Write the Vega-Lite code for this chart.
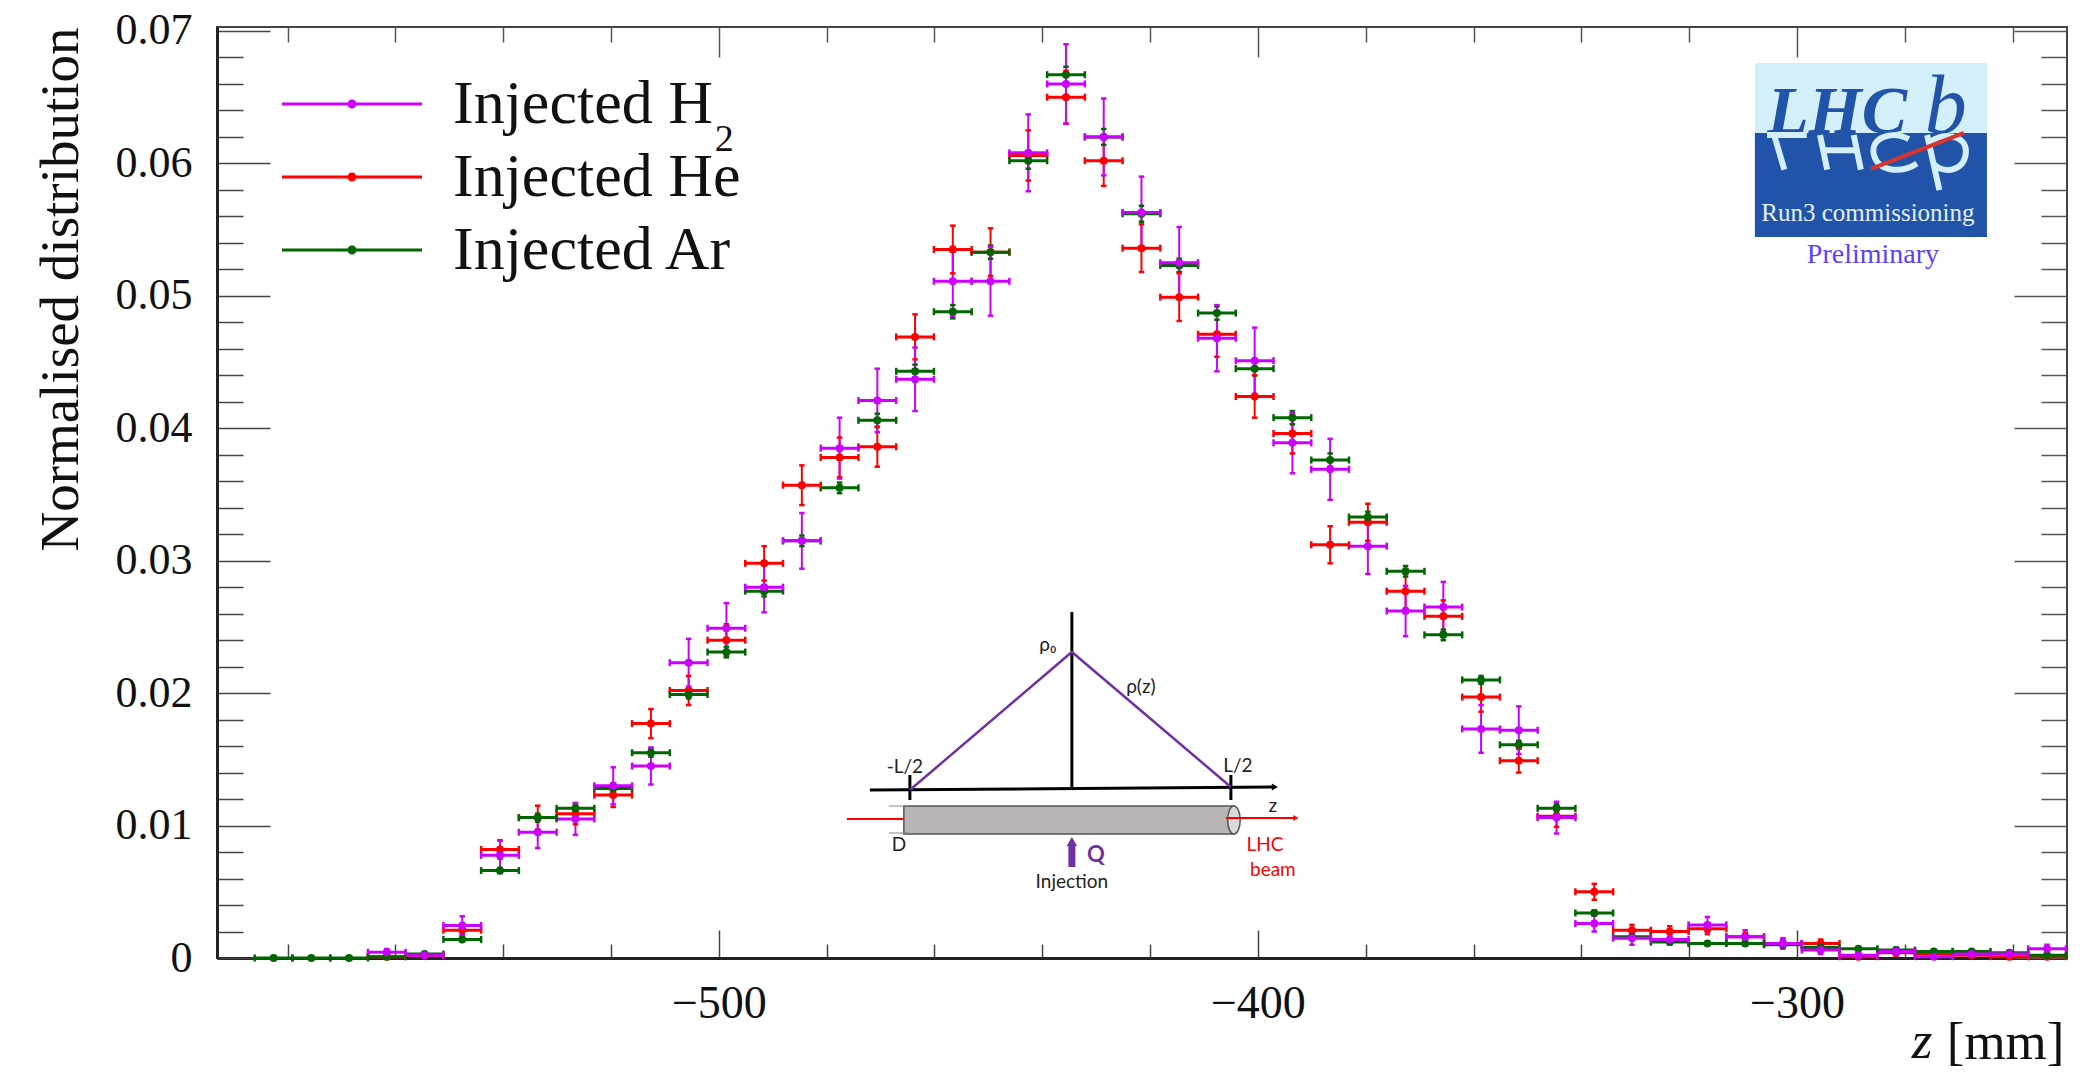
{"$schema":"https://vega.github.io/schema/vega-lite/v6.json","width":1850,"height":931,"autosize":"none","padding":{"left":217,"top":27,"right":13,"bottom":119},"background":"white","config":{"view":{"stroke":"#444","strokeWidth":2},"text":{"font":"Lato"}},"resolve":{"axis":{"x":"independent","y":"independent"}},"datasets":{"pts":[
{"s":"Injected He","z":-561.6,"zl":-565.1,"zh":-558.1,"v":0.0001,"vl":0,"vh":0.0002},
{"s":"Injected He","z":-554.6,"zl":-558.1,"zh":-551.1,"v":0.0002,"vl":0.0001,"vh":0.0003},
{"s":"Injected He","z":-547.6,"zl":-551.1,"zh":-544.1,"v":0.0021,"vl":0.0017,"vh":0.0025},
{"s":"Injected He","z":-540.6,"zl":-544.1,"zh":-537.1,"v":0.0082,"vl":0.0075,"vh":0.0089},
{"s":"Injected He","z":-533.6,"zl":-537.1,"zh":-530.1,"v":0.0106,"vl":0.0097,"vh":0.0115},
{"s":"Injected He","z":-526.6,"zl":-530.1,"zh":-523.1,"v":0.0109,"vl":0.0101,"vh":0.0117},
{"s":"Injected He","z":-519.6,"zl":-523.1,"zh":-516.1,"v":0.0123,"vl":0.0114,"vh":0.0132},
{"s":"Injected He","z":-512.6,"zl":-516.1,"zh":-509.1,"v":0.0177,"vl":0.0166,"vh":0.0188},
{"s":"Injected He","z":-505.6,"zl":-509.1,"zh":-502.1,"v":0.0202,"vl":0.0191,"vh":0.0213},
{"s":"Injected He","z":-498.6,"zl":-502.1,"zh":-495.1,"v":0.024,"vl":0.0228,"vh":0.0252},
{"s":"Injected He","z":-491.6,"zl":-495.1,"zh":-488.1,"v":0.0298,"vl":0.0285,"vh":0.0311},
{"s":"Injected He","z":-484.6,"zl":-488.1,"zh":-481.1,"v":0.0357,"vl":0.0342,"vh":0.0372},
{"s":"Injected He","z":-477.6,"zl":-481.1,"zh":-474.1,"v":0.0378,"vl":0.0363,"vh":0.0393},
{"s":"Injected He","z":-470.6,"zl":-474.1,"zh":-467.1,"v":0.0386,"vl":0.0371,"vh":0.0401},
{"s":"Injected He","z":-463.6,"zl":-467.1,"zh":-460.1,"v":0.0469,"vl":0.0452,"vh":0.0486},
{"s":"Injected He","z":-456.6,"zl":-460.1,"zh":-453.1,"v":0.0535,"vl":0.0517,"vh":0.0553},
{"s":"Injected He","z":-449.6,"zl":-453.1,"zh":-446.1,"v":0.0533,"vl":0.0515,"vh":0.0551},
{"s":"Injected He","z":-442.6,"zl":-446.1,"zh":-439.1,"v":0.0606,"vl":0.0587,"vh":0.0625},
{"s":"Injected He","z":-435.6,"zl":-439.1,"zh":-432.1,"v":0.065,"vl":0.063,"vh":0.067},
{"s":"Injected He","z":-428.6,"zl":-432.1,"zh":-425.1,"v":0.0602,"vl":0.0583,"vh":0.0621},
{"s":"Injected He","z":-421.6,"zl":-425.1,"zh":-418.1,"v":0.0536,"vl":0.0518,"vh":0.0554},
{"s":"Injected He","z":-414.6,"zl":-418.1,"zh":-411.1,"v":0.0499,"vl":0.0481,"vh":0.0517},
{"s":"Injected He","z":-407.6,"zl":-411.1,"zh":-404.1,"v":0.0471,"vl":0.0454,"vh":0.0488},
{"s":"Injected He","z":-400.6,"zl":-404.1,"zh":-397.1,"v":0.0424,"vl":0.0408,"vh":0.044},
{"s":"Injected He","z":-393.6,"zl":-397.1,"zh":-390.1,"v":0.0396,"vl":0.0381,"vh":0.0411},
{"s":"Injected He","z":-386.6,"zl":-390.1,"zh":-383.1,"v":0.0312,"vl":0.0298,"vh":0.0326},
{"s":"Injected He","z":-379.6,"zl":-383.1,"zh":-376.1,"v":0.0329,"vl":0.0315,"vh":0.0343},
{"s":"Injected He","z":-372.6,"zl":-376.1,"zh":-369.1,"v":0.0277,"vl":0.0264,"vh":0.029},
{"s":"Injected He","z":-365.6,"zl":-369.1,"zh":-362.1,"v":0.0258,"vl":0.0246,"vh":0.027},
{"s":"Injected He","z":-358.6,"zl":-362.1,"zh":-355.1,"v":0.0197,"vl":0.0186,"vh":0.0208},
{"s":"Injected He","z":-351.6,"zl":-355.1,"zh":-348.1,"v":0.0149,"vl":0.014,"vh":0.0158},
{"s":"Injected He","z":-344.6,"zl":-348.1,"zh":-341.1,"v":0.0107,"vl":0.0099,"vh":0.0115},
{"s":"Injected He","z":-337.6,"zl":-341.1,"zh":-334.1,"v":0.005,"vl":0.0044,"vh":0.0056},
{"s":"Injected He","z":-330.6,"zl":-334.1,"zh":-327.1,"v":0.0021,"vl":0.0017,"vh":0.0025},
{"s":"Injected He","z":-323.6,"zl":-327.1,"zh":-320.1,"v":0.002,"vl":0.0016,"vh":0.0024},
{"s":"Injected He","z":-316.6,"zl":-320.1,"zh":-313.1,"v":0.0022,"vl":0.0018,"vh":0.0026},
{"s":"Injected He","z":-309.6,"zl":-313.1,"zh":-306.1,"v":0.0016,"vl":0.0013,"vh":0.0019},
{"s":"Injected He","z":-302.6,"zl":-306.1,"zh":-299.1,"v":0.0011,"vl":0.0008,"vh":0.0014},
{"s":"Injected He","z":-295.6,"zl":-299.1,"zh":-292.1,"v":0.0011,"vl":0.0008,"vh":0.0014},
{"s":"Injected He","z":-288.6,"zl":-292.1,"zh":-285.1,"v":0.0001,"vl":0,"vh":0.0002},
{"s":"Injected He","z":-281.6,"zl":-285.1,"zh":-278.1,"v":0.0004,"vl":0.0002,"vh":0.0006},
{"s":"Injected He","z":-274.6,"zl":-278.1,"zh":-271.1,"v":0.0003,"vl":0.0002,"vh":0.0004},
{"s":"Injected He","z":-267.6,"zl":-271.1,"zh":-264.1,"v":0.0002,"vl":0.0001,"vh":0.0003},
{"s":"Injected He","z":-260.6,"zl":-264.1,"zh":-257.1,"v":0.0001,"vl":0,"vh":0.0002},
{"s":"Injected He","z":-253.6,"zl":-257.1,"zh":-250.1,"v":0.0001,"vl":0,"vh":0.0002},
{"s":"Injected Ar","z":-582.6,"zl":-586.1,"zh":-579.1,"v":0,"vl":0,"vh":0},
{"s":"Injected Ar","z":-575.6,"zl":-579.1,"zh":-572.1,"v":0,"vl":0,"vh":0},
{"s":"Injected Ar","z":-568.6,"zl":-572.1,"zh":-565.1,"v":0,"vl":0,"vh":0},
{"s":"Injected Ar","z":-561.6,"zl":-565.1,"zh":-558.1,"v":0.0001,"vl":0.00005,"vh":0.00015},
{"s":"Injected Ar","z":-554.6,"zl":-558.1,"zh":-551.1,"v":0.0003,"vl":0.0002,"vh":0.0004},
{"s":"Injected Ar","z":-547.6,"zl":-551.1,"zh":-544.1,"v":0.0014,"vl":0.0013,"vh":0.0015},
{"s":"Injected Ar","z":-540.6,"zl":-544.1,"zh":-537.1,"v":0.0066,"vl":0.0064,"vh":0.0068},
{"s":"Injected Ar","z":-533.6,"zl":-537.1,"zh":-530.1,"v":0.0106,"vl":0.0103,"vh":0.0109},
{"s":"Injected Ar","z":-526.6,"zl":-530.1,"zh":-523.1,"v":0.0113,"vl":0.011,"vh":0.0116},
{"s":"Injected Ar","z":-519.6,"zl":-523.1,"zh":-516.1,"v":0.0128,"vl":0.0125,"vh":0.0131},
{"s":"Injected Ar","z":-512.6,"zl":-516.1,"zh":-509.1,"v":0.0155,"vl":0.0152,"vh":0.0158},
{"s":"Injected Ar","z":-505.6,"zl":-509.1,"zh":-502.1,"v":0.0199,"vl":0.0196,"vh":0.0202},
{"s":"Injected Ar","z":-498.6,"zl":-502.1,"zh":-495.1,"v":0.0231,"vl":0.0227,"vh":0.0235},
{"s":"Injected Ar","z":-491.6,"zl":-495.1,"zh":-488.1,"v":0.0277,"vl":0.0273,"vh":0.0281},
{"s":"Injected Ar","z":-484.6,"zl":-488.1,"zh":-481.1,"v":0.0315,"vl":0.0311,"vh":0.0319},
{"s":"Injected Ar","z":-477.6,"zl":-481.1,"zh":-474.1,"v":0.0355,"vl":0.0351,"vh":0.0359},
{"s":"Injected Ar","z":-470.6,"zl":-474.1,"zh":-467.1,"v":0.0406,"vl":0.0401,"vh":0.0411},
{"s":"Injected Ar","z":-463.6,"zl":-467.1,"zh":-460.1,"v":0.0443,"vl":0.0438,"vh":0.0448},
{"s":"Injected Ar","z":-456.6,"zl":-460.1,"zh":-453.1,"v":0.0488,"vl":0.0483,"vh":0.0493},
{"s":"Injected Ar","z":-449.6,"zl":-453.1,"zh":-446.1,"v":0.0533,"vl":0.0528,"vh":0.0538},
{"s":"Injected Ar","z":-442.6,"zl":-446.1,"zh":-439.1,"v":0.0602,"vl":0.0596,"vh":0.0608},
{"s":"Injected Ar","z":-435.6,"zl":-439.1,"zh":-432.1,"v":0.0667,"vl":0.0661,"vh":0.0673},
{"s":"Injected Ar","z":-428.6,"zl":-432.1,"zh":-425.1,"v":0.062,"vl":0.0614,"vh":0.0626},
{"s":"Injected Ar","z":-421.6,"zl":-425.1,"zh":-418.1,"v":0.0562,"vl":0.0556,"vh":0.0568},
{"s":"Injected Ar","z":-414.6,"zl":-418.1,"zh":-411.1,"v":0.0523,"vl":0.0518,"vh":0.0528},
{"s":"Injected Ar","z":-407.6,"zl":-411.1,"zh":-404.1,"v":0.0487,"vl":0.0482,"vh":0.0492},
{"s":"Injected Ar","z":-400.6,"zl":-404.1,"zh":-397.1,"v":0.0445,"vl":0.044,"vh":0.045},
{"s":"Injected Ar","z":-393.6,"zl":-397.1,"zh":-390.1,"v":0.0408,"vl":0.0403,"vh":0.0413},
{"s":"Injected Ar","z":-386.6,"zl":-390.1,"zh":-383.1,"v":0.0376,"vl":0.0371,"vh":0.0381},
{"s":"Injected Ar","z":-379.6,"zl":-383.1,"zh":-376.1,"v":0.0333,"vl":0.0329,"vh":0.0337},
{"s":"Injected Ar","z":-372.6,"zl":-376.1,"zh":-369.1,"v":0.0292,"vl":0.0288,"vh":0.0296},
{"s":"Injected Ar","z":-365.6,"zl":-369.1,"zh":-362.1,"v":0.0244,"vl":0.024,"vh":0.0248},
{"s":"Injected Ar","z":-358.6,"zl":-362.1,"zh":-355.1,"v":0.021,"vl":0.0207,"vh":0.0213},
{"s":"Injected Ar","z":-351.6,"zl":-355.1,"zh":-348.1,"v":0.0161,"vl":0.0158,"vh":0.0164},
{"s":"Injected Ar","z":-344.6,"zl":-348.1,"zh":-341.1,"v":0.0113,"vl":0.011,"vh":0.0116},
{"s":"Injected Ar","z":-337.6,"zl":-341.1,"zh":-334.1,"v":0.0034,"vl":0.0032,"vh":0.0036},
{"s":"Injected Ar","z":-330.6,"zl":-334.1,"zh":-327.1,"v":0.0016,"vl":0.0015,"vh":0.0017},
{"s":"Injected Ar","z":-323.6,"zl":-327.1,"zh":-320.1,"v":0.0012,"vl":0.0011,"vh":0.0013},
{"s":"Injected Ar","z":-316.6,"zl":-320.1,"zh":-313.1,"v":0.0011,"vl":0.001,"vh":0.0012},
{"s":"Injected Ar","z":-309.6,"zl":-313.1,"zh":-306.1,"v":0.0011,"vl":0.001,"vh":0.0012},
{"s":"Injected Ar","z":-302.6,"zl":-306.1,"zh":-299.1,"v":0.001,"vl":0.0009,"vh":0.0011},
{"s":"Injected Ar","z":-295.6,"zl":-299.1,"zh":-292.1,"v":0.0008,"vl":0.0007,"vh":0.0009},
{"s":"Injected Ar","z":-288.6,"zl":-292.1,"zh":-285.1,"v":0.0007,"vl":0.0006,"vh":0.0008},
{"s":"Injected Ar","z":-281.6,"zl":-285.1,"zh":-278.1,"v":0.0006,"vl":0.0005,"vh":0.0007},
{"s":"Injected Ar","z":-274.6,"zl":-278.1,"zh":-271.1,"v":0.0005,"vl":0.0004,"vh":0.0006},
{"s":"Injected Ar","z":-267.6,"zl":-271.1,"zh":-264.1,"v":0.0005,"vl":0.0004,"vh":0.0006},
{"s":"Injected Ar","z":-260.6,"zl":-264.1,"zh":-257.1,"v":0.0004,"vl":0.0003,"vh":0.0005},
{"s":"Injected Ar","z":-253.6,"zl":-257.1,"zh":-250.1,"v":0.0002,"vl":0.0001,"vh":0.0003},
{"s":"Injected H","z":-561.6,"zl":-565.1,"zh":-558.1,"v":0.00043,"vl":0.00018,"vh":0.00068},
{"s":"Injected H","z":-554.6,"zl":-558.1,"zh":-551.1,"v":0.0002,"vl":0.00003,"vh":0.00037},
{"s":"Injected H","z":-547.6,"zl":-551.1,"zh":-544.1,"v":0.00245,"vl":0.00175,"vh":0.00315},
{"s":"Injected H","z":-540.6,"zl":-544.1,"zh":-537.1,"v":0.00775,"vl":0.00665,"vh":0.00885},
{"s":"Injected H","z":-533.6,"zl":-537.1,"zh":-530.1,"v":0.0095,"vl":0.0083,"vh":0.0107},
{"s":"Injected H","z":-526.6,"zl":-530.1,"zh":-523.1,"v":0.0105,"vl":0.0093,"vh":0.0117},
{"s":"Injected H","z":-519.6,"zl":-523.1,"zh":-516.1,"v":0.013,"vl":0.0116,"vh":0.0144},
{"s":"Injected H","z":-512.6,"zl":-516.1,"zh":-509.1,"v":0.0145,"vl":0.0131,"vh":0.0159},
{"s":"Injected H","z":-505.6,"zl":-509.1,"zh":-502.1,"v":0.0223,"vl":0.0205,"vh":0.0241},
{"s":"Injected H","z":-498.6,"zl":-502.1,"zh":-495.1,"v":0.0249,"vl":0.023,"vh":0.0268},
{"s":"Injected H","z":-491.6,"zl":-495.1,"zh":-488.1,"v":0.028,"vl":0.0261,"vh":0.0299},
{"s":"Injected H","z":-484.6,"zl":-488.1,"zh":-481.1,"v":0.0315,"vl":0.0294,"vh":0.0336},
{"s":"Injected H","z":-477.6,"zl":-481.1,"zh":-474.1,"v":0.0385,"vl":0.0362,"vh":0.0408},
{"s":"Injected H","z":-470.6,"zl":-474.1,"zh":-467.1,"v":0.0421,"vl":0.0397,"vh":0.0445},
{"s":"Injected H","z":-463.6,"zl":-467.1,"zh":-460.1,"v":0.0437,"vl":0.0413,"vh":0.0461},
{"s":"Injected H","z":-456.6,"zl":-460.1,"zh":-453.1,"v":0.0511,"vl":0.0485,"vh":0.0537},
{"s":"Injected H","z":-449.6,"zl":-453.1,"zh":-446.1,"v":0.0511,"vl":0.0485,"vh":0.0537},
{"s":"Injected H","z":-442.6,"zl":-446.1,"zh":-439.1,"v":0.0608,"vl":0.0579,"vh":0.0637},
{"s":"Injected H","z":-435.6,"zl":-439.1,"zh":-432.1,"v":0.066,"vl":0.063,"vh":0.069},
{"s":"Injected H","z":-428.6,"zl":-432.1,"zh":-425.1,"v":0.062,"vl":0.0591,"vh":0.0649},
{"s":"Injected H","z":-421.6,"zl":-425.1,"zh":-418.1,"v":0.0563,"vl":0.0536,"vh":0.059},
{"s":"Injected H","z":-414.6,"zl":-418.1,"zh":-411.1,"v":0.0525,"vl":0.0498,"vh":0.0552},
{"s":"Injected H","z":-407.6,"zl":-411.1,"zh":-404.1,"v":0.0468,"vl":0.0443,"vh":0.0493},
{"s":"Injected H","z":-400.6,"zl":-404.1,"zh":-397.1,"v":0.0451,"vl":0.0426,"vh":0.0476},
{"s":"Injected H","z":-393.6,"zl":-397.1,"zh":-390.1,"v":0.0389,"vl":0.0366,"vh":0.0412},
{"s":"Injected H","z":-386.6,"zl":-390.1,"zh":-383.1,"v":0.0369,"vl":0.0346,"vh":0.0392},
{"s":"Injected H","z":-379.6,"zl":-383.1,"zh":-376.1,"v":0.0311,"vl":0.029,"vh":0.0332},
{"s":"Injected H","z":-372.6,"zl":-376.1,"zh":-369.1,"v":0.0262,"vl":0.0243,"vh":0.0281},
{"s":"Injected H","z":-365.6,"zl":-369.1,"zh":-362.1,"v":0.0265,"vl":0.0246,"vh":0.0284},
{"s":"Injected H","z":-358.6,"zl":-362.1,"zh":-355.1,"v":0.0173,"vl":0.0155,"vh":0.0191},
{"s":"Injected H","z":-351.6,"zl":-355.1,"zh":-348.1,"v":0.0172,"vl":0.0154,"vh":0.019},
{"s":"Injected H","z":-344.6,"zl":-348.1,"zh":-341.1,"v":0.0106,"vl":0.0094,"vh":0.0118},
{"s":"Injected H","z":-337.6,"zl":-341.1,"zh":-334.1,"v":0.0026,"vl":0.002,"vh":0.0032},
{"s":"Injected H","z":-330.6,"zl":-334.1,"zh":-327.1,"v":0.0015,"vl":0.001,"vh":0.002},
{"s":"Injected H","z":-323.6,"zl":-327.1,"zh":-320.1,"v":0.0014,"vl":0.001,"vh":0.0018},
{"s":"Injected H","z":-316.6,"zl":-320.1,"zh":-313.1,"v":0.0025,"vl":0.0019,"vh":0.0031},
{"s":"Injected H","z":-309.6,"zl":-313.1,"zh":-306.1,"v":0.0016,"vl":0.0011,"vh":0.0021},
{"s":"Injected H","z":-302.6,"zl":-306.1,"zh":-299.1,"v":0.0011,"vl":0.0007,"vh":0.0015},
{"s":"Injected H","z":-295.6,"zl":-299.1,"zh":-292.1,"v":0.0006,"vl":0.0003,"vh":0.0009},
{"s":"Injected H","z":-288.6,"zl":-292.1,"zh":-285.1,"v":0.0002,"vl":0,"vh":0.0004},
{"s":"Injected H","z":-281.6,"zl":-285.1,"zh":-278.1,"v":0.0005,"vl":0.0002,"vh":0.0008},
{"s":"Injected H","z":-274.6,"zl":-278.1,"zh":-271.1,"v":0.0001,"vl":0,"vh":0.0002},
{"s":"Injected H","z":-267.6,"zl":-271.1,"zh":-264.1,"v":0.0003,"vl":0.0001,"vh":0.0005},
{"s":"Injected H","z":-260.6,"zl":-264.1,"zh":-257.1,"v":0.0003,"vl":0.0001,"vh":0.0005},
{"s":"Injected H","z":-253.6,"zl":-257.1,"zh":-250.1,"v":0.0007,"vl":0.0004,"vh":0.001}
]},
"layer":[
{"mark":{"type":"point","opacity":0},"data":{"values":[{"z":-500,"v":0}]},
"encoding":{"x":{"field":"z","type":"quantitative","scale":{"domain":[-593.1,-249.9],"nice":false,"zero":false},
"axis":{"orient":"bottom","values":[-580,-560,-540,-520,-500,-480,-460,-440,-420,-400,-380,-360,-340,-320,-300,-280,-260],"labelExpr":"datum.value%100===0?format(datum.value,'d'):''","labelFont":"Liberation Serif","labelFontSize":46,"labelColor":"#111","labelPadding":51,"tickColor":"#444","tickWidth":1.5,"tickSize":{"condition":{"test":"datum.value%100===0","value":-28},"value":-14},"domain":true,"domainColor":"#222","domainWidth":3,"grid":false,"title":"[mm]","titleFont":"Liberation Serif","titleFontSize":53,"titleFontWeight":"normal","titleColor":"#111","titleAlign":"right","titleBaseline":"middle","titleX":1847,"titleY":84,"labelOverlap":false}},
"y":{"field":"v","type":"quantitative","scale":{"domain":[0,0.0703],"nice":false,"zero":false},
"axis":{"orient":"left","values":[0,0.002,0.004,0.006,0.008,0.01,0.012,0.014,0.016,0.018,0.02,0.022,0.024,0.026,0.028,0.03,0.032,0.034,0.036,0.038,0.04,0.042,0.044,0.046,0.048,0.05,0.052,0.054,0.056,0.058,0.06,0.062,0.064,0.066,0.068,0.07],"labelExpr":"abs(datum.value*100-round(datum.value*100))<0.000001?(datum.value===0?'0':format(datum.value,'.2f')):''","labelFont":"Liberation Serif","labelFontSize":44,"labelColor":"#111","labelPadding":78,"tickColor":"#444","tickWidth":1.5,"tickSize":{"condition":{"test":"abs(datum.value*100-round(datum.value*100))<0.000001","value":-53},"value":-26},"domain":true,"domainColor":"#222","domainWidth":3,"grid":false,"title":"Normalised distribution","titleFont":"Liberation Serif","titleFontSize":55,"titleFontWeight":"normal","titleColor":"#111","titleAngle":-90,"titleAlign":"right","titleBaseline":"middle","titleX":-157,"titleY":0,"labelOverlap":false}}}},
{"mark":{"type":"point","opacity":0},"data":{"values":[{"z":-500,"v":0}]},
"encoding":{"x":{"field":"z","type":"quantitative","axis":{"orient":"top","values":[-580,-560,-540,-520,-500,-480,-460,-440,-420,-400,-380,-360,-340,-320,-300,-280,-260],"labels":false,"tickColor":"#555","tickWidth":1.5,"tickSize":{"condition":{"test":"datum.value%100===0","value":-30},"value":-15},"domain":false,"grid":false,"title":null}},
"y":{"field":"v","type":"quantitative","axis":{"orient":"right","values":[0,0.002,0.004,0.006,0.008,0.01,0.012,0.014,0.016,0.018,0.02,0.022,0.024,0.026,0.028,0.03,0.032,0.034,0.036,0.038,0.04,0.042,0.044,0.046,0.048,0.05,0.052,0.054,0.056,0.058,0.06,0.062,0.064,0.066,0.068,0.07],"labels":false,"tickColor":"#555","tickWidth":1.5,"tickSize":{"condition":{"test":"abs(datum.value*100-round(datum.value*100))<0.000001","value":-53},"value":-26},"domain":false,"grid":false,"title":null}}}},
{"mark":{"type":"rect","fill":"#D3EFF9"},"data":{"values":[{"z":-307.8,"z2":-264.75,"v":0.06758,"v2":0.0623}]},"encoding":{"x":{"field":"z","type":"quantitative","axis":null},"x2":{"field":"z2"},"y":{"field":"v","type":"quantitative","axis":null},"y2":{"field":"v2"}}},
{"mark":{"type":"rect","fill":"#2154A8"},"data":{"values":[{"z":-307.8,"z2":-264.75,"v":0.0623,"v2":0.05444}]},"encoding":{"x":{"field":"z","type":"quantitative","axis":null},"x2":{"field":"z2"},"y":{"field":"v","type":"quantitative","axis":null},"y2":{"field":"v2"}}},
{"mark":{"type":"text","font":"Liberation Serif","fontStyle":"italic","fontWeight":"bold","fontSize":68,"color":"#2154A8","align":"left","baseline":"alphabetic"},"data":{"values":[{"z":-305.5,"v":0.0623,"t":"LHC"}]},"encoding":{"x":{"field":"z","type":"quantitative","axis":null},"y":{"field":"v","type":"quantitative","axis":null},"text":{"field":"t"}}},
{"mark":{"type":"text","font":"Liberation Serif","fontStyle":"italic","fontSize":84,"color":"#2154A8","align":"left","baseline":"alphabetic"},"data":{"values":[{"z":-276.3,"v":0.0623,"t":"b"}]},"encoding":{"x":{"field":"z","type":"quantitative","axis":null},"y":{"field":"v","type":"quantitative","axis":null},"text":{"field":"t"}}},
{"mark":{"type":"point","filled":false,"stroke":"#D3EFF9","strokeWidth":6,"opacity":1,"size":41616,"shape":"M-0.9,0.02L-0.8,0.36M-0.97,0.02L-0.58,0.02M-0.45,0.02L-0.38,0.36M-0.12,0.02L-0.05,0.36M-0.42,0.17L-0.08,0.17M0.42,0.06C0.25,-0.03 0.03,0.05 0.08,0.22C0.12,0.38 0.35,0.4 0.5,0.3M0.6,0.02L0.72,0.56M0.62,0.1C0.75,-0.02 0.98,0.02 0.98,0.18C0.98,0.36 0.78,0.42 0.66,0.3"},"data":{"values":[{"z":-287.2,"v":0.0623}]},"encoding":{"x":{"field":"z","type":"quantitative","axis":null},"y":{"field":"v","type":"quantitative","axis":null}}},
{"mark":{"type":"rule","color":"#D9342B","strokeWidth":4},"data":{"values":[{"z":-286.27,"z2":-269.02,"v":0.05958,"v2":0.0623}]},"encoding":{"x":{"field":"z","type":"quantitative","axis":null},"x2":{"field":"z2"},"y":{"field":"v","type":"quantitative","axis":null},"y2":{"field":"v2"}}},
{"mark":{"type":"text","font":"Liberation Serif","fontSize":25,"color":"#E3F0FA"},"data":{"values":[{"z":-286.83,"v":0.05626,"t":"Run3 commissioning"}]},"encoding":{"x":{"field":"z","type":"quantitative","axis":null},"y":{"field":"v","type":"quantitative","axis":null},"text":{"field":"t"}}},
{"mark":{"type":"text","font":"Liberation Serif","fontSize":28,"color":"#5B3FFF"},"data":{"values":[{"z":-285.9,"v":0.05308,"t":"Preliminary"}]},"encoding":{"x":{"field":"z","type":"quantitative","axis":null},"y":{"field":"v","type":"quantitative","axis":null},"text":{"field":"t"}}},
{"mark":{"type":"rect","fill":"#B9B5B5","stroke":"#555","strokeWidth":1.5},"data":{"values":[{"z":-465.68,"z2":-404.45,"v":0.011478,"v2":0.009364}]},"encoding":{"x":{"field":"z","type":"quantitative","axis":null},"x2":{"field":"z2"},"y":{"field":"v","type":"quantitative","axis":null},"y2":{"field":"v2"}}},
{"mark":{"type":"point","filled":true,"fill":"#DADADA","stroke":"#555","strokeWidth":1.5,"opacity":1,"size":784,"shape":"M0,-1A0.45,1 0 1 1 0,1A0.45,1 0 1 1 0,-1Z"},"data":{"values":[{"z":-404.45,"v":0.01042}]},"encoding":{"x":{"field":"z","type":"quantitative","axis":null},"y":{"field":"v","type":"quantitative","axis":null}}},
{"mark":{"type":"rule","color":"#888","strokeWidth":1},"data":{"values":[{"z":-468.46,"z2":-464.75,"v":0.011478,"v2":0.011478},{"z":-468.46,"z2":-464.75,"v":0.009439,"v2":0.009439}]},"encoding":{"x":{"field":"z","type":"quantitative","axis":null},"x2":{"field":"z2"},"y":{"field":"v","type":"quantitative","axis":null},"y2":{"field":"v2"}}},
{"mark":{"type":"rule","color":"#000","strokeWidth":3},"data":{"values":[{"z":-471.98,"z2":-396.85,"v":0.012686,"v2":0.012913},{"z":-464.56,"z2":-464.56,"v":0.013819,"v2":0.011931},{"z":-405.01,"z2":-405.01,"v":0.013819,"v2":0.011931},{"z":-434.51,"z2":-434.51,"v":0.026127,"v2":0.01275}]},"encoding":{"x":{"field":"z","type":"quantitative","axis":null},"x2":{"field":"z2"},"y":{"field":"v","type":"quantitative","axis":null},"y2":{"field":"v2"}}},
{"mark":{"type":"point","shape":"triangle-right","filled":true,"fill":"#000","opacity":1,"size":50},"data":{"values":[{"z":-396.85,"v":0.012913}]},"encoding":{"x":{"field":"z","type":"quantitative","axis":null},"y":{"field":"v","type":"quantitative","axis":null}}},
{"mark":{"type":"line","color":"#7030A0","strokeWidth":2.5},"data":{"values":[{"z":-464.56,"v":0.012686},{"z":-434.51,"v":0.023107},{"z":-405.01,"v":0.012913}]},"encoding":{"x":{"field":"z","type":"quantitative","axis":null},"y":{"field":"v","type":"quantitative","axis":null}}},
{"mark":{"type":"rule","color":"#F00","strokeWidth":2},"data":{"values":[{"z":-476.25,"z2":-465.68,"v":0.010496,"v2":0.010496},{"z":-405.94,"z2":-392.95,"v":0.010572,"v2":0.010572}]},"encoding":{"x":{"field":"z","type":"quantitative","axis":null},"x2":{"field":"z2"},"y":{"field":"v","type":"quantitative","axis":null},"y2":{"field":"v2"}}},
{"mark":{"type":"point","shape":"triangle-right","filled":true,"fill":"#F00","opacity":1,"size":36},"data":{"values":[{"z":-392.95,"v":0.010572}]},"encoding":{"x":{"field":"z","type":"quantitative","axis":null},"y":{"field":"v","type":"quantitative","axis":null}}},
{"mark":{"type":"rule","color":"#7030A0","strokeWidth":7},"data":{"values":[{"z":-434.51,"z2":-434.51,"v":0.006872,"v2":0.0085}]},"encoding":{"x":{"field":"z","type":"quantitative","axis":null},"x2":{"field":"z2"},"y":{"field":"v","type":"quantitative","axis":null},"y2":{"field":"v2"}}},
{"mark":{"type":"point","shape":"triangle-up","filled":true,"fill":"#7030A0","opacity":1,"size":110},"data":{"values":[{"z":-434.51,"v":0.0088}]},"encoding":{"x":{"field":"z","type":"quantitative","axis":null},"y":{"field":"v","type":"quantitative","axis":null}}},
{"mark":{"type":"text","font":"Lato","fontSize":19,"color":"#222"},"data":{"values":[{"z":-465.49,"v":0.014423,"t":"-L/2"},{"z":-466.6,"v":0.008533,"t":"D"},{"z":-438.96,"v":0.023635,"t":"ρ₀"},{"z":-421.71,"v":0.020464,"t":"ρ(z)"},{"z":-403.71,"v":0.014498,"t":"L/2"},{"z":-397.22,"v":0.011478,"t":"z"},{"z":-434.51,"v":0.005739,"t":"Injection"}]},"encoding":{"x":{"field":"z","type":"quantitative","axis":null},"y":{"field":"v","type":"quantitative","axis":null},"text":{"field":"t"}}},
{"mark":{"type":"text","font":"Lato","fontSize":19,"color":"#F00"},"data":{"values":[{"z":-398.7,"v":0.008533,"t":"LHC"},{"z":-397.22,"v":0.006645,"t":"beam"}]},"encoding":{"x":{"field":"z","type":"quantitative","axis":null},"y":{"field":"v","type":"quantitative","axis":null},"text":{"field":"t"}}},
{"mark":{"type":"text","font":"Lato","fontSize":22,"fontWeight":"bold","color":"#7030A0"},"data":{"values":[{"z":-430.06,"v":0.007778,"t":"Q"}]},"encoding":{"x":{"field":"z","type":"quantitative","axis":null},"y":{"field":"v","type":"quantitative","axis":null},"text":{"field":"t"}}},
{"mark":{"type":"text","font":"Liberation Serif","fontSize":38,"color":"#111"},"data":{"values":[{"z":-499.0,"v":0.0618,"t":"2"}]},"encoding":{"x":{"field":"z","type":"quantitative","axis":null},"y":{"field":"v","type":"quantitative","axis":null},"text":{"field":"t"}}},
{"mark":{"type":"text","font":"Liberation Serif","fontStyle":"italic","fontSize":53,"color":"#111"},"data":{"values":[{"z":-276.8,"v":-0.00634,"t":"z"}]},"encoding":{"x":{"field":"z","type":"quantitative","axis":null},"y":{"field":"v","type":"quantitative","axis":null},"text":{"field":"t"}}},
{"mark":{"type":"rule","strokeWidth":3},"data":{"name":"pts"},"encoding":{"x":{"field":"zl","type":"quantitative","axis":null},"x2":{"field":"zh"},"y":{"field":"v","type":"quantitative","axis":null},"color":{"field":"s","type":"nominal"}}},
{"mark":{"type":"rule","strokeWidth":2},"data":{"name":"pts"},"encoding":{"x":{"field":"z","type":"quantitative","axis":null},"y":{"field":"vl","type":"quantitative","axis":null},"y2":{"field":"vh"},"color":{"field":"s","type":"nominal"}}},
{"mark":{"type":"point","filled":false,"strokeWidth":2.5,"opacity":1,"size":30,"shape":"M-1,0L1,0"},"data":{"name":"pts"},"encoding":{"x":{"field":"z","type":"quantitative","axis":null},"y":{"field":"vl","type":"quantitative","axis":null},"color":{"field":"s","type":"nominal"}}},
{"mark":{"type":"point","filled":false,"strokeWidth":2.5,"opacity":1,"size":30,"shape":"M-1,0L1,0"},"data":{"name":"pts"},"encoding":{"x":{"field":"z","type":"quantitative","axis":null},"y":{"field":"vh","type":"quantitative","axis":null},"color":{"field":"s","type":"nominal"}}},
{"mark":{"type":"point","filled":false,"strokeWidth":2.5,"opacity":1,"size":49,"shape":"M0,-1L0,1"},"data":{"name":"pts"},"encoding":{"x":{"field":"zl","type":"quantitative","axis":null},"y":{"field":"v","type":"quantitative","axis":null},"color":{"field":"s","type":"nominal"}}},
{"mark":{"type":"point","filled":false,"strokeWidth":2.5,"opacity":1,"size":49,"shape":"M0,-1L0,1"},"data":{"name":"pts"},"encoding":{"x":{"field":"zh","type":"quantitative","axis":null},"y":{"field":"v","type":"quantitative","axis":null},"color":{"field":"s","type":"nominal"}}},
{"mark":{"type":"point","filled":true,"opacity":1,"size":64,"shape":"circle"},"data":{"name":"pts"},"encoding":{"x":{"field":"z","type":"quantitative","axis":null},"y":{"field":"v","type":"quantitative","axis":null},"color":{"field":"s","type":"nominal","scale":{"domain":["Injected H","Injected He","Injected Ar"],"range":["#CC00FF","#FF0000","#006600"]},"legend":{"orient":"none","legendX":104,"legendY":46,"title":null,"labelFont":"Liberation Serif","labelFontSize":62,"labelColor":"#111","labelLimit":600,"symbolType":"M-2.8,-0.06L2.8,-0.06L2.8,0.06L-2.8,0.06Z M-0.18,0A0.18,0.18 0 1 1 0.18,0A0.18,0.18 0 1 1 -0.18,0Z","symbolSize":2500,"symbolOpacity":1,"rowPadding":11,"labelOffset":70,"symbolStrokeWidth":0,"symbolFillColor":"black"}}}}
]}
